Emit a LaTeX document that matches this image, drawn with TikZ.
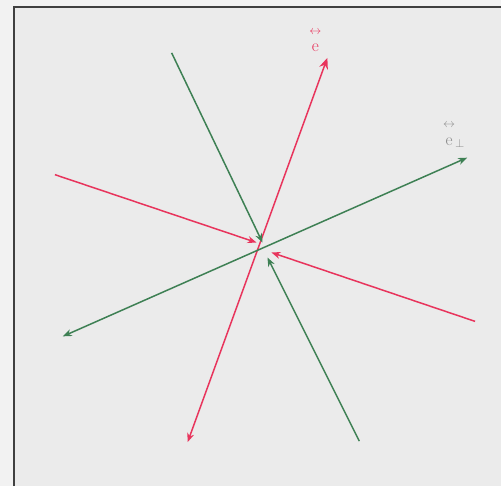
\documentclass[tikz,border=0pt]{standalone}
\usepackage{amsmath}
\usetikzlibrary{arrows.meta}
\definecolor{paper}{RGB}{235,235,235}
\definecolor{vecred}{RGB}{232,52,92}
\definecolor{vecgreen}{RGB}{62,128,84}
\tikzset{
    frame/.style={draw=black!75, line width=2pt},
    red vec/.style={-{Stealth[length=9pt,width=7pt]}, vecred, line width=1.5pt},
    green vec/.style={-{Stealth[length=9pt,width=7pt]}, vecgreen, line width=1.5pt},
    both red/.style={{Stealth[length=9pt,width=7pt]}-{Stealth[length=11pt,width=9pt]}, vecred, line width=1.5pt},
    both green/.style={{Stealth[length=9pt,width=7pt]}-{Stealth[length=9pt,width=7pt]}, vecgreen, line width=1.5pt},
    vec label/.style={font=\LARGE, inner sep=1pt, align=center},
}
\newcommand{\dyad}[1]{$\overset{\leftrightarrow}{\vphantom{\rule{0pt}{1.9ex}}\mathrm{e}}#1$}
\begin{document}
\begin{tikzpicture}[x=1pt, y=-1pt]

    % page and frame
    \fill[black!5] (0,0) rectangle (502,487);
    \fill[paper] (15,7) rectangle (502,487);
    \draw[frame] (14,487) -- (14,7) -- (502,7);

    % end points of the vectors
    \coordinate (c) at (265,250);
    \coordinate (r1a) at (188,443);
    \coordinate (r1b) at (328,58);
    \coordinate (g1a) at (63,337);
    \coordinate (g1b) at (468,158);
    \coordinate (r2a) at (55,175);
    \coordinate (r2b) at (257,243);
    \coordinate (r3a) at (476,322);
    \coordinate (r3b) at (272,253);
    \coordinate (g2a) at (172,53);
    \coordinate (g2b) at (263,243);
    \coordinate (g3a) at (360,442);
    \coordinate (g3b) at (268,258);

    % two-headed axes
    \draw[both red] (r1a) -- (r1b);
    \draw[both green] (g1a) -- (g1b);

    % arrows into the centre
    \draw[red vec] (r2a) -- (r2b);
    \draw[red vec] (r3a) -- (r3b);
    \draw[green vec] (g2a) -- (g2b);
    \draw[green vec] (g3a) -- (g3b);

    % labels
    \node[vec label, vecred] (lpar) at (316,40) {\dyad{}};
    \node[vec label, black!45] (lperp) at (455,135) {\dyad{_{\perp}}};

\end{tikzpicture}
\end{document}
